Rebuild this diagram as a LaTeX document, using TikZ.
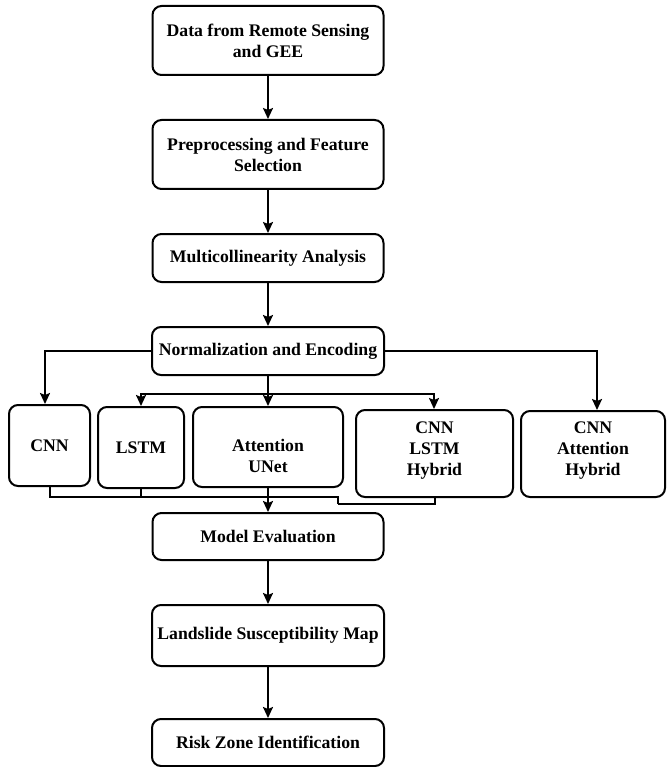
\documentclass[tikz,border=0pt]{standalone}
\usepackage{fontspec}
\setmainfont{Liberation Serif}
\usetikzlibrary{arrows.meta,calc}
\begin{document}
\begin{tikzpicture}[x=1pt,y=-1pt,
  txt/.style={font=\fontsize{17.7}{21}\selectfont\bfseries, align=center},
  box/.style={draw, line width=2pt, rounded corners=9pt, inner sep=0pt, txt},
  conn/.style={line width=2pt},
  arr/.style={conn, -{Stealth[length=11pt,width=10pt,inset=2pt]}}]
\useasboundingbox (0,0) rectangle (666,767);

\node[box, minimum width=231, minimum height=69] (b1) at (268,40.5) {Data from Remote Sensing\\and GEE};
\node[box, minimum width=231, minimum height=69] (b2) at (268,154.5) {Preprocessing and Feature\\Selection};
\node[box, minimum width=231, minimum height=48] (b3) at (268,258) {Multicollinearity Analysis};
\node[box, minimum width=232, minimum height=48] (b4) at (268,351) {Normalization and Encoding};

\node[box, minimum width=81, minimum height=81] (cnn) at (49.5,445.5) {CNN};
\node[box, minimum width=86, minimum height=81] (lstm) at (141,447.5) {LSTM};
\node[box, minimum width=150, minimum height=80,
  label={[name=attlbl, txt, yshift=-9pt]center:Attention\\UNet}] (att) at (268,447) {};
\node[box, minimum width=157, minimum height=87,
  label={[name=clhlbl, txt, yshift=3pt]center:CNN\\LSTM\\Hybrid}] (clh) at (434.5,453.5) {};
\node[box, minimum width=144, minimum height=86,
  label={[name=cahlbl, txt, yshift=3pt]center:CNN\\Attention\\Hybrid}] (cah) at (593,454) {};

\node[box, minimum width=231, minimum height=47] (me) at (268,536.5) {Model Evaluation};
\node[box, minimum width=232, minimum height=61] (lsm) at (268,635.5) {Landslide Susceptibility Map};
\node[box, minimum width=232, minimum height=47] (risk) at (268,742.5) {Risk Zone Identification};

% main chain
\draw[arr] (b1.south) -- (b2.north);
\draw[arr] (b2.south) -- (b3.north);
\draw[arr] (b3.south) -- (b4.north);
\draw[arr] (me.south) -- (lsm.north);
\draw[arr] (lsm.south) -- (risk.north);

% distribution
\draw[arr] (b4.west) -| ($(cnn.north)+(-4.5,0)$);
\draw[arr] (b4.east) -| ($(cah.north)+(4,0)$);
\coordinate (split) at ($(b4.south)+(0,18)$);
\draw[conn] (b4.south) -- (split);
\draw[arr] (split) -| (lstm.north);
\draw[arr] (split) -| (clh.north -| 434,0);
\draw[arr] (split) -- (att.north);

% merge
\coordinate (merge) at ($(att.south)+(0,9)$);
\coordinate (detour) at (338,504);
\draw[conn] (cnn.south) |- (merge) -- (detour |- merge) -- (detour);
\draw[conn] (lstm.south) -- (lstm.south |- merge);
\draw[conn] (clh.south) |- (detour);
\draw[arr] (att.south) -- (me.north);
\end{tikzpicture}
\end{document}
